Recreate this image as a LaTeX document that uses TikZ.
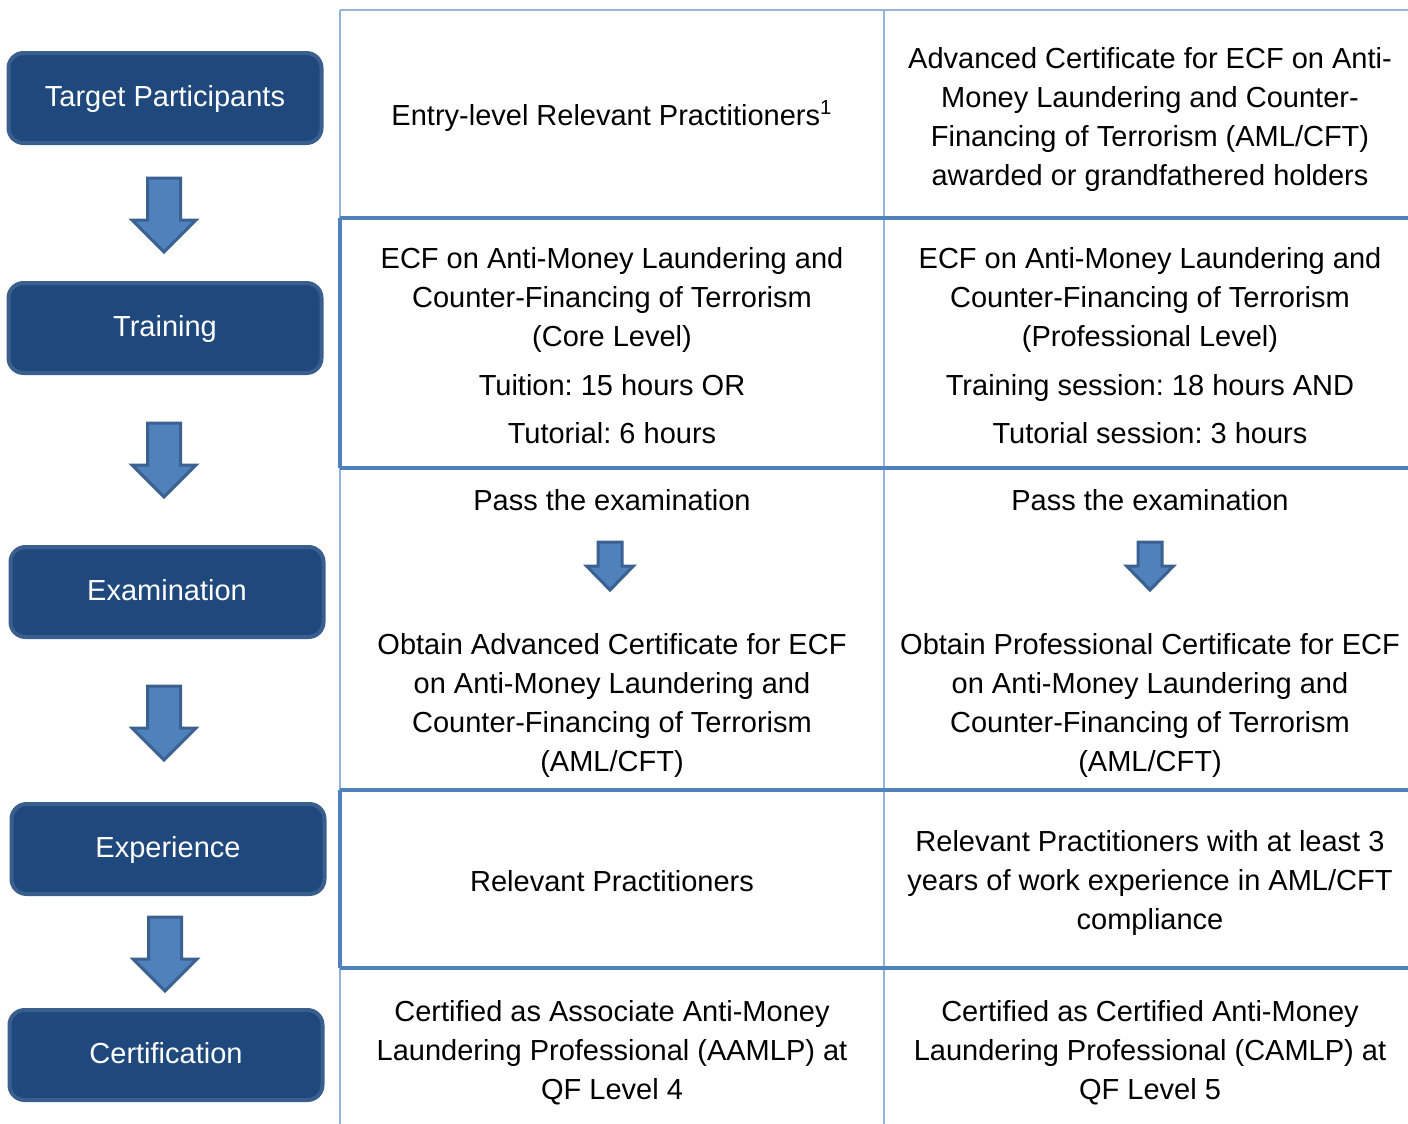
\documentclass[tikz,border=0pt]{standalone}
\usepackage{fontspec}
\setmainfont{Liberation Sans}
\usetikzlibrary{positioning}
\frenchspacing

\definecolor{boxfill}{HTML}{1F497D}
\definecolor{boxedge}{HTML}{3A5F8E}
\definecolor{arrowfill}{HTML}{4F81BD}
\definecolor{arrowedge}{HTML}{3A6190}
\definecolor{thinrule}{HTML}{95B3D7}
\definecolor{thickrule}{HTML}{4F81BD}

% big and small block arrows, #1 = top coordinate
\newcommand{\bigdown}[1]{%
  \draw[arrowbox] (#1) ++(-16.5,0) -- ++(33,0) -- ++(0,42) -- ++(15.5,0)
    -- ++(-32,32) -- ++(-32,-32) -- ++(15.5,0) -- cycle;}
\newcommand{\smalldown}[1]{%
  \draw[arrowbox] (#1) ++(-12,0) -- ++(24,0) -- ++(0,24) -- ++(11.5,0)
    -- ++(-23.5,24) -- ++(-23.5,-24) -- ++(11.5,0) -- cycle;}

\begin{document}
\begin{tikzpicture}[
      x=0.5pt, y=-0.5pt,
      stage/.style={
         rectangle,
         rounded corners=7.5pt,
         minimum width=156.5pt,
         minimum height=45pt,
         line width=2pt,
         draw=boxedge,
         fill=boxfill,
         text=white,
         text height=10.5pt,
         text depth=2pt,
         font=\fontsize{14.5pt}{19.5pt}\selectfont
      },
      cell/.style={
         align=center,
         inner sep=0pt,
         font=\fontsize{14.5pt}{19.5pt}\selectfont
      },
      arrowbox/.style={fill=arrowfill, draw=arrowedge, line width=1.5pt, line join=miter},
      thin line/.style={draw=thinrule, line width=1pt},
      thick line/.style={draw=thickrule, line width=1.75pt}
    ]
    \useasboundingbox (0,0) rectangle (1408,1124);

    % stages on the left
    \node (target) [stage] at (165,98) {Target Participants};
    \node (training) [stage] at (165,328) {Training};
    \node (exam) [stage] at (167,592) {Examination};
    \node (experience) [stage] at (168,849) {Experience};
    \node (certification) [stage] at (166,1055) {Certification};

    \coordinate (a1) at (164,178);
    \coordinate (a2) at (164,423);
    \coordinate (a3) at (164,686);
    \coordinate (a4) at (165,917);
    \bigdown{a1}
    \bigdown{a2}
    \bigdown{a3}
    \bigdown{a4}

    % table rules
    \draw[thin line] (340,10) -- (1408,10);
    \draw[thin line] (340,10) -- (340,1124);
    \draw[thin line] (884,10) -- (884,1124);
    \draw[thick line] (340,218) -- (340,468);
    \draw[thick line] (340,790) -- (340,968);
    \foreach \y in {218,468,790,968}
       \draw[thick line] (340,\y) -- (1408,\y);

    % row 1
    \node (c11) [cell] at (612,116) {Entry-level Relevant Practitioners\textsuperscript{1}};
    \node (c12) [cell] at (1150,119) {Advanced Certificate for ECF on Anti-\\
       Money Laundering and Counter-\\Financing of Terrorism (AML/CFT)\\
       awarded or grandfathered holders};
    % row 2
    \node (c21) [cell] at (612,346) {ECF on Anti-Money Laundering and\\
       Counter-Financing of Terrorism\\(Core Level)\\[5pt]
       Tuition: 15 hours OR\\[4.5pt]Tutorial: 6 hours};
    \node (c22) [cell] at (1150,346) {ECF on Anti-Money Laundering and\\
       Counter-Financing of Terrorism\\(Professional Level)\\[5pt]
       Training session: 18 hours AND\\[4.5pt]Tutorial session: 3 hours};
    % row 3
    \node (c31) [cell] at (612,500) {Pass the examination};
    \node (c32) [cell] at (1150,500) {Pass the examination};
    \coordinate (s1) at (610,542);
    \coordinate (s2) at (1150,542);
    \smalldown{s1}
    \smalldown{s2}
    \node (c41) [cell] at (612,705) {Obtain Advanced Certificate for ECF\\
       on Anti-Money Laundering and\\Counter-Financing of Terrorism\\(AML/CFT)};
    \node (c42) [cell] at (1150,705) {Obtain Professional Certificate for ECF\\
       on Anti-Money Laundering and\\Counter-Financing of Terrorism\\(AML/CFT)};
    % row 4
    \node (c51) [cell] at (612,881) {Relevant Practitioners};
    \node (c52) [cell] at (1150,883) {Relevant Practitioners with at least 3\\
       years of work experience in AML/CFT\\compliance};
    % row 5
    \node (c61) [cell] at (612,1053) {Certified as Associate Anti-Money\\
       Laundering Professional (AAMLP) at\\QF Level 4};
    \node (c62) [cell] at (1150,1053) {Certified as Certified Anti-Money\\
       Laundering Professional (CAMLP) at\\QF Level 5};
\end{tikzpicture}
\end{document}
